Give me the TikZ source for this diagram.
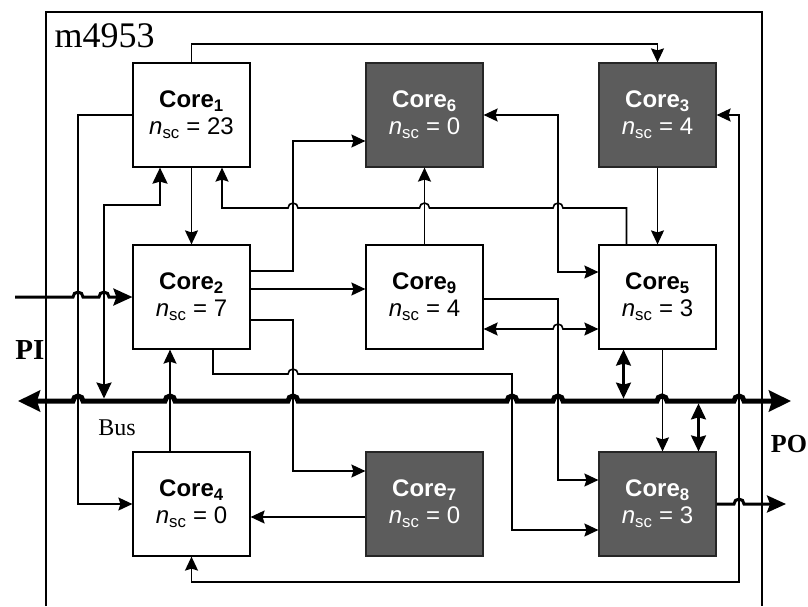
\documentclass[tikz,border=0pt]{standalone}
\usepackage{fontspec}
\setmainfont{Liberation Serif}
\setsansfont{Liberation Sans}
\usepackage{tikz}
\usetikzlibrary{arrows.meta,positioning}

\newcommand{\corelabel}[2]{\textbf{Core\textsubscript{#1}}\\\textit{n}\textsubscript{sc}\;=\;#2}

\begin{document}
\begin{tikzpicture}[x=1pt, y=-1pt, node distance=182pt and 233pt, on grid,
	core/.style={draw, line width=1.2pt, minimum width=117pt, minimum height=104pt, inner sep=0pt,
		align=center, font=\sffamily\fontsize{24}{27}\selectfont},
	dark/.style={core, fill=black!64, draw=black!85, text=white},
	wire/.style={line width=1.6pt, -{Stealth[length=14pt,width=13pt,inset=2pt]}},
	twoway/.style={line width=1.6pt, {Stealth[length=14pt,width=13pt,inset=2pt]}-{Stealth[length=14pt,width=13pt,inset=2pt]}},
	both/.style={line width=2.2pt, {Stealth[length=16pt,width=15pt,inset=2pt]}-{Stealth[length=16pt,width=15pt,inset=2pt]}},
	bus/.style={line width=5pt, {Stealth[length=22pt,width=21pt,inset=3pt]}-{Stealth[length=22pt,width=21pt,inset=3pt]}},
	pio/.style={line width=3pt, -{Stealth[length=19pt,width=17pt,inset=3pt]}}]
	\useasboundingbox (0,0) rectangle (808,606);

	% chip frame
	\draw[line width=1.2pt] (46,606) -- (46,12) -- (762,12) -- (762,606);
	\node[anchor=base west, font=\fontsize{36}{36}\selectfont] (title) at (51,47) {m4953};

	\node[core] (c1) at (191.5,115) {\corelabel{1}{23}};
	\node[dark] (c6) [right=of c1] {\corelabel{6}{0}};
	\node[dark] (c3) [right=of c6] {\corelabel{3}{4}};
	\node[core] (c2) [below=of c1] {\corelabel{2}{7}};
	\node[core] (c9) [right=of c2] {\corelabel{9}{4}};
	\node[core] (c5) [right=of c9] {\corelabel{5}{3}};
	\node[core] (c4) [below=207pt of c2] {\corelabel{4}{0}};
	\node[dark] (c7) [right=of c4] {\corelabel{7}{0}};
	\node[dark] (c8) [right=of c7] {\corelabel{8}{3}};

	\coordinate (busl) at (18,401);
	\coordinate (busr) at (791,401);
	\coordinate (pil) at (15,297);
	\coordinate (por) at (786,504);

	\node[font=\bfseries\fontsize{29}{29}\selectfont] (pi) at (30,350) {PI};
	\node[font=\bfseries\fontsize{26}{26}\selectfont] (po) at (789,444) {PO};
	\node[font=\fontsize{24}{24}\selectfont] (buslabel) at (117,428) {Bus};

	% bus, primary in and out
	\draw[bus] (busl) -- (73,401) arc[start angle=180, end angle=0, radius=5pt]
		-- (165,401) arc[start angle=180, end angle=0, radius=5pt]
		-- (288,401) arc[start angle=180, end angle=0, radius=5pt]
		-- (507,401) arc[start angle=180, end angle=0, radius=5pt]
		-- (553,401) arc[start angle=180, end angle=0, radius=5pt]
		-- (657,401) arc[start angle=180, end angle=0, radius=5pt]
		-- (734,401) arc[start angle=180, end angle=0, radius=5pt] -- (busr);
	\draw[pio] (pil) -- (73,297) arc[start angle=180, end angle=0, radius=5pt]
		-- (99,297) arc[start angle=180, end angle=0, radius=5pt] -- (c2.west);
	\draw[pio] (c8.east) -- (734,504) arc[start angle=180, end angle=0, radius=5pt] -- (por);

	% core to core
	\draw[wire] (c1.north) -- (191.5,44) -| (c3.north);
	\draw[wire] (c1.west) -- (78,115) |- (c4.west);
	\draw[wire] (c1.south) -- (c2.north);
	\draw[wire] ([xshift=-31pt]c5.north) |- (563,208) arc[start angle=0, end angle=180, radius=5pt]
		-- (429.5,208) arc[start angle=0, end angle=180, radius=5pt]
		-- (298,208) arc[start angle=0, end angle=180, radius=5pt]
		-- (222,208) -- ([xshift=30.5pt]c1.south);
	\draw[wire] ([yshift=26pt]c2.east) -- (293,271) |- ([yshift=-26pt]c6.west);
	\draw[wire] ([yshift=8pt]c2.east) -- ([yshift=8pt]c9.west);
	\draw[wire] ([yshift=-23pt]c2.east) -- (293,320) |- ([yshift=33pt]c7.west);
	\draw[wire] ([xshift=21.5pt]c2.south) |- (288,374) arc[start angle=180, end angle=0, radius=5pt]
		-- (512,374) |- ([yshift=-26pt]c8.west);
	\draw[wire] (c9.north) -- (c6.south);
	\draw[wire] ([yshift=-2pt]c9.east) -- (558,299) |- ([yshift=24pt]c8.west);
	\draw[twoway] (c6.east) -- (558,115) |- ([yshift=25pt]c5.west);
	\draw[twoway] ([yshift=-32pt]c9.east) -- (553,329) arc[start angle=180, end angle=0, radius=5pt]
		-- ([yshift=-32pt]c5.west);
	\draw[wire] (c3.south) -- (c5.north);
	\draw[wire] ([xshift=5pt]c5.south) -- ([xshift=5pt]c8.north);
	\draw[wire] ([yshift=-13pt]c7.west) -- ([yshift=-13pt]c4.east);
	\draw[wire] ([xshift=-21.5pt]c4.north) -- ([xshift=-21.5pt]c2.south);
	\draw[twoway] (c4.south) |- (739,582) |- (c3.east);

	% cores on the bus
	\draw[both] ([xshift=-31.5pt]c1.south) |- (104,205) -- (104,398.5);
	\draw[both] ([xshift=-34pt]c5.south) -- ++(0,49);
	\draw[both] ([xshift=41pt]c8.north) -- ++(0,-48);
\end{tikzpicture}
\end{document}
